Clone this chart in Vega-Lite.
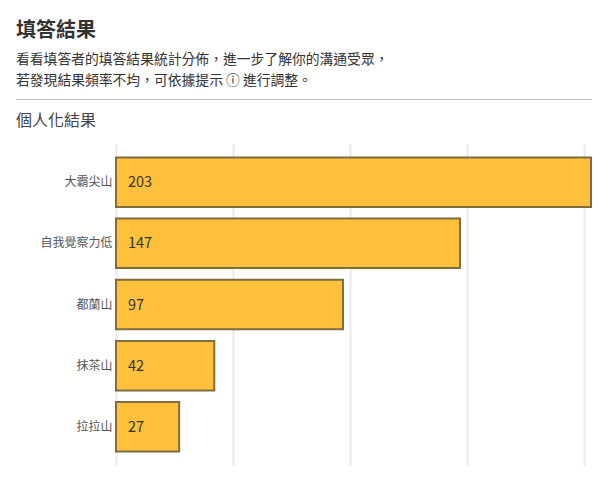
{
  "$schema": "https://vega.github.io/schema/vega-lite/v6.json",
  "background": "white",
  "padding": {"left": 15, "top": 21, "right": 16, "bottom": 15},
  "spacing": 13,
  "config": {"view": {"stroke": null}, "font": "Noto Sans CJK TC"},
  "vconcat": [
    {
      "width": 476,
      "height": 1,
      "title": {
        "text": "填答結果",
        "subtitle": ["看看填答者的填答結果統計分佈，進一步了解你的溝通受眾，", "若發現結果頻率不均，可依據提示 ⓘ 進行調整。"],
        "anchor": "start",
        "frame": "group",
        "dx": -100,
        "fontSize": 20,
        "fontWeight": "bold",
        "color": "#333333",
        "subtitleFontSize": 13.8,
        "subtitleColor": "#333333",
        "subtitleLineHeight": 21,
        "subtitlePadding": 12,
        "offset": 11
      },
      "data": {"values": [{"from": 0, "to": 1}]},
      "mark": {"type": "rule", "color": "#bdbdbd", "strokeWidth": 1},
      "encoding": {
        "x": {"field": "from", "type": "quantitative", "axis": null, "scale": {"domain": [0, 1], "range": [-100, 476]}},
        "x2": {"field": "to"}
      }
    },
    {
      "width": 475,
      "height": 321,
      "title": {
        "text": "個人化結果",
        "anchor": "start",
        "frame": "bounds",
        "fontSize": 16,
        "fontWeight": "normal",
        "color": "#444444",
        "offset": 15
      },
      "data": {
        "values": [
          {"name": "大霸尖山", "count": 203},
          {"name": "自我覺察力低", "count": 147},
          {"name": "都蘭山", "count": 97},
          {"name": "抹茶山", "count": 42},
          {"name": "拉拉山", "count": 27}
        ]
      },
      "encoding": {
        "y": {
          "field": "name",
          "type": "nominal",
          "sort": null,
          "title": null,
          "scale": {"paddingInner": 0.19, "paddingOuter": 0.22},
          "axis": {
            "domain": false,
            "ticks": false,
            "labelFontSize": 12,
            "labelColor": "#555555",
            "labelPadding": 4,
            "minExtent": 100,
            "maxExtent": 100
          }
        }
      },
      "layer": [
        {
          "mark": {"type": "bar", "fill": "#ffc13b", "stroke": "#7f6c3f", "strokeWidth": 2},
          "encoding": {
            "x": {
              "field": "count",
              "type": "quantitative",
              "title": null,
              "scale": {"domain": [0, 203], "nice": false},
              "axis": {
                "values": [0, 50, 100, 150, 200],
                "labels": false,
                "ticks": false,
                "domain": false,
                "grid": true,
                "gridColor": "#e9e9e9",
                "gridWidth": 2
              }
            }
          }
        },
        {
          "mark": {"type": "text", "align": "left", "dx": 12, "dy": 1, "fontSize": 14.5, "color": "#333333"},
          "encoding": {
            "x": {"datum": 0, "type": "quantitative"},
            "text": {"field": "count", "type": "quantitative"}
          }
        }
      ]
    }
  ]
}
